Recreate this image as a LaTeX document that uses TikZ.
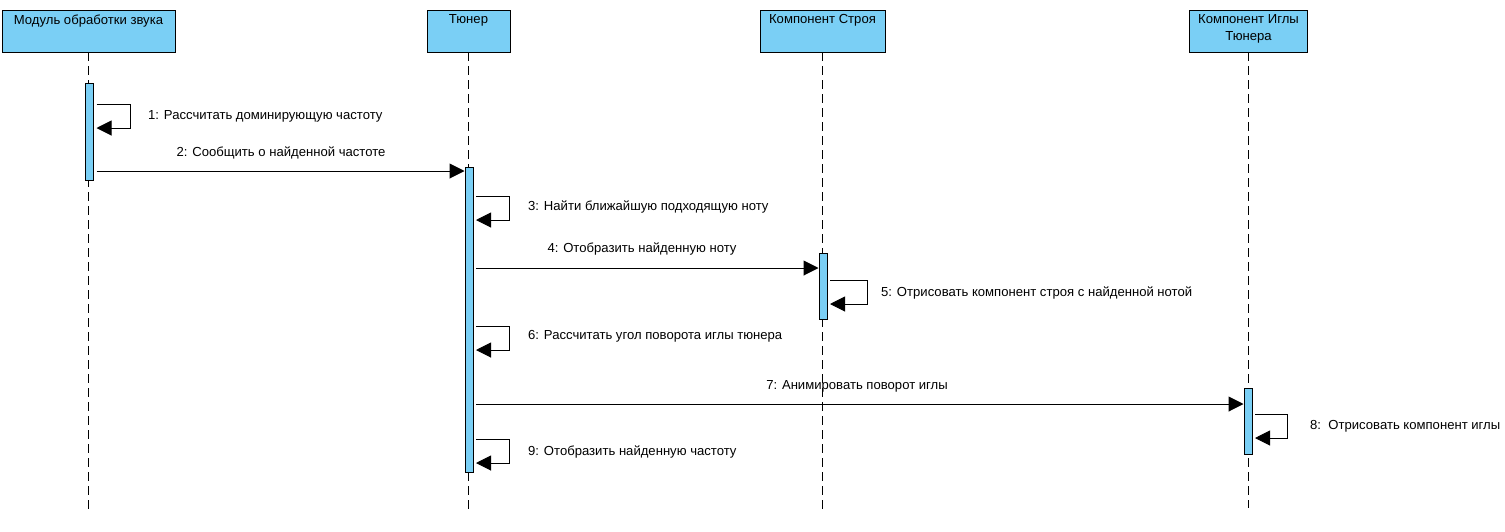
\documentclass[tikz,border=0pt]{standalone}
\usepackage{fontspec}
\setmainfont{Liberation Sans}
\usetikzlibrary{arrows.meta}
\definecolor{umlblue}{RGB}{122,207,245}
\begin{document}
\begin{tikzpicture}[x=1pt,y=-1pt,
  font=\fontsize{13.1}{15}\selectfont,
  headbox/.style={draw=black,line width=1.2pt,fill=umlblue,inner sep=0pt,anchor=north west},
  headtext/.style={anchor=north,align=center,inner sep=0pt,yshift=-4.5pt},
  lifeline/.style={draw=black,line width=1pt,dash pattern=on 9pt off 5pt},
  actbar/.style={draw=black,line width=1pt,fill=umlblue,minimum width=8pt,inner sep=0pt,anchor=north},
  msg/.style={draw=black,line width=1pt,-{Triangle[length=15pt,width=15pt]}},
  msgtext/.style={inner sep=0pt,anchor=center},
  looptext/.style={inner sep=0pt,anchor=west}]
\useasboundingbox (0,0) rectangle (1505,531);

% object heads
\node[headbox,minimum width=173pt,minimum height=42pt] (h1) at (2,10) {};
\node[headbox,minimum width=83pt,minimum height=42pt] (h2) at (427,10) {};
\node[headbox,minimum width=125pt,minimum height=42pt] (h3) at (760,10) {};
\node[headbox,minimum width=118pt,minimum height=42pt] (h4) at (1189,10) {};
\node[headtext] (t1) at (88.5,10) {Модуль обработки звука};
\node[headtext] (t2) at (468.5,10) {Тюнер};
\node[headtext] (t3) at (822.5,10) {Компонент Строя};
\node[headtext,align=center,font=\fontsize{13.1}{16.5}\selectfont] (t4) at (1248.5,10) {Компонент Иглы\\Тюнера};

% lifeline ends
\coordinate (e1) at (88.5,510);
\coordinate (e2) at (468.5,510);
\coordinate (e3) at (822.5,510);
\coordinate (e4) at (1248.5,508);
\draw[lifeline] (88.5,52) -- (e1);
\draw[lifeline] (468.5,52) -- (e2);
\draw[lifeline] (822.5,52) -- (e3);
\draw[lifeline] (1248.5,52) -- (e4);

% activation bars
\node[actbar,minimum height=97pt] (a1) at (89.5,83) {};
\node[actbar,minimum height=305pt] (a2) at (469,167) {};
\node[actbar,minimum height=66pt] (a3) at (823,253) {};
\node[actbar,minimum height=66pt] (a4) at (1248,388) {};

% 1: self call
\draw[msg] ([xshift=2.5pt]a1.east |- 0,104) -- ++(34,0) -- ++(0,24) -- ([xshift=2.5pt]a1.east |- 0,128);
\node[looptext] (l1) at (148,116) {1: Рассчитать доминирующую частоту};

% 2: call to tuner
\draw[msg] ([xshift=2.5pt]a1.east |- 0,171) -- (a2.west |- 0,171);
\node[msgtext] (l2) at (281,153) {2: Сообщить о найденной частоте};

% 3: self call
\draw[msg] ([xshift=2.5pt]a2.east |- 0,196) -- ++(33,0) -- ++(0,24) -- ([xshift=2.5pt]a2.east |- 0,220);
\node[looptext] (l3) at (528,207) {3: Найти ближайшую подходящую ноту};

% 4: call to scale component
\draw[msg] ([xshift=2.5pt]a2.east |- 0,268) -- (a3.west |- 0,268);
\node[msgtext] (l4) at (642,249) {4: Отобразить найденную ноту};

% 5: self call
\draw[msg] ([xshift=2.5pt]a3.east |- 0,280) -- ++(37,0) -- ++(0,24) -- ([xshift=2.5pt]a3.east |- 0,304);
\node[looptext] (l5) at (881,293) {5: Отрисовать компонент строя с найденной нотой};

% 6: self call
\draw[msg] ([xshift=2.5pt]a2.east |- 0,326) -- ++(33,0) -- ++(0,24) -- ([xshift=2.5pt]a2.east |- 0,350);
\node[looptext] (l6) at (528,336) {6: Рассчитать угол поворота иглы тюнера};

% 7: call to needle component
\draw[msg] ([xshift=2.5pt]a2.east |- 0,404) -- (a4.west |- 0,404);
\node[msgtext] (l7) at (857,386) {7: Анимировать поворот иглы};

% 8: self call
\draw[msg] ([xshift=2.5pt]a4.east |- 0,414) -- ++(32,0) -- ++(0,24) -- ([xshift=2.5pt]a4.east |- 0,438);
\node[looptext] (l8) at (1310,426) {8:\ \ Отрисовать компонент иглы};

% 9: self call
\draw[msg] ([xshift=2.5pt]a2.east |- 0,439) -- ++(33,0) -- ++(0,24) -- ([xshift=2.5pt]a2.east |- 0,463);
\node[looptext] (l9) at (528,452) {9: Отобразить найденную частоту};
\end{tikzpicture}
\end{document}
